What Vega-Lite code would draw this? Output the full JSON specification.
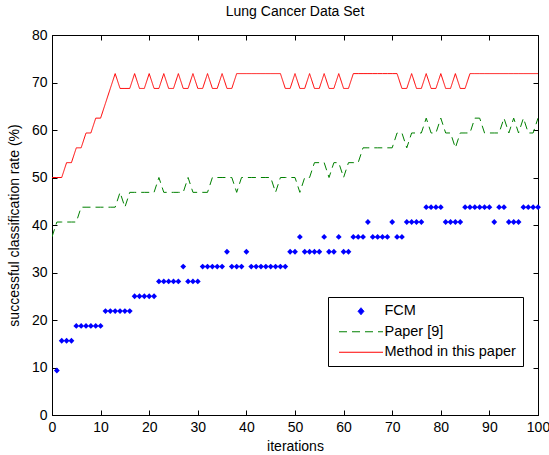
{
  "$schema": "https://vega.github.io/schema/vega-lite/v6.json",
  "width": 486,
  "height": 380,
  "autosize": "none",
  "padding": {"left": 52, "top": 35, "right": 11, "bottom": 40},
  "background": "white",
  "config": {
    "view": {"stroke": "black", "strokeWidth": 1},
    "font": "Liberation Sans",
    "axis": {
      "labelFont": "Liberation Sans",
      "labelFontSize": 14,
      "labelColor": "black",
      "labelFlush": false,
      "labelOverlap": false,
      "titleFont": "Liberation Sans",
      "titleFontSize": 14,
      "titleFontWeight": "normal",
      "titleColor": "black",
      "domainColor": "black",
      "tickColor": "black",
      "grid": false,
      "tickSize": -5
    }
  },
  "title": {"text": "Lung Cancer Data Set", "font": "Liberation Sans", "fontSize": 14, "fontWeight": "normal", "color": "black", "offset": 9},
  "datasets": {
    "lines": [
      {"series": "Method in this paper", "i": 0, "v": 50}, {"series": "Method in this paper", "i": 1, "v": 50}, {"series": "Method in this paper", "i": 2, "v": 50},
      {"series": "Method in this paper", "i": 3, "v": 53.125}, {"series": "Method in this paper", "i": 4, "v": 53.125},
      {"series": "Method in this paper", "i": 5, "v": 56.25}, {"series": "Method in this paper", "i": 6, "v": 56.25},
      {"series": "Method in this paper", "i": 7, "v": 59.375}, {"series": "Method in this paper", "i": 8, "v": 59.375},
      {"series": "Method in this paper", "i": 9, "v": 62.5}, {"series": "Method in this paper", "i": 10, "v": 62.5},
      {"series": "Method in this paper", "i": 11, "v": 65.625}, {"series": "Method in this paper", "i": 12, "v": 68.75},
      {"series": "Method in this paper", "i": 13, "v": 71.875},
      {"series": "Method in this paper", "i": 14, "v": 68.75}, {"series": "Method in this paper", "i": 15, "v": 68.75}, {"series": "Method in this paper", "i": 16, "v": 68.75},
      {"series": "Method in this paper", "i": 17, "v": 71.875},
      {"series": "Method in this paper", "i": 18, "v": 68.75}, {"series": "Method in this paper", "i": 19, "v": 68.75},
      {"series": "Method in this paper", "i": 20, "v": 71.875},
      {"series": "Method in this paper", "i": 21, "v": 68.75}, {"series": "Method in this paper", "i": 22, "v": 68.75},
      {"series": "Method in this paper", "i": 23, "v": 71.875},
      {"series": "Method in this paper", "i": 24, "v": 68.75}, {"series": "Method in this paper", "i": 25, "v": 68.75},
      {"series": "Method in this paper", "i": 26, "v": 71.875},
      {"series": "Method in this paper", "i": 27, "v": 68.75}, {"series": "Method in this paper", "i": 28, "v": 68.75},
      {"series": "Method in this paper", "i": 29, "v": 71.875},
      {"series": "Method in this paper", "i": 30, "v": 68.75}, {"series": "Method in this paper", "i": 31, "v": 68.75},
      {"series": "Method in this paper", "i": 32, "v": 71.875},
      {"series": "Method in this paper", "i": 33, "v": 68.75}, {"series": "Method in this paper", "i": 34, "v": 68.75},
      {"series": "Method in this paper", "i": 35, "v": 71.875},
      {"series": "Method in this paper", "i": 36, "v": 68.75}, {"series": "Method in this paper", "i": 37, "v": 68.75},
      {"series": "Method in this paper", "i": 38, "v": 71.875}, {"series": "Method in this paper", "i": 39, "v": 71.875}, {"series": "Method in this paper", "i": 40, "v": 71.875},
      {"series": "Method in this paper", "i": 41, "v": 71.875}, {"series": "Method in this paper", "i": 42, "v": 71.875}, {"series": "Method in this paper", "i": 43, "v": 71.875},
      {"series": "Method in this paper", "i": 44, "v": 71.875}, {"series": "Method in this paper", "i": 45, "v": 71.875}, {"series": "Method in this paper", "i": 46, "v": 71.875},
      {"series": "Method in this paper", "i": 47, "v": 71.875},
      {"series": "Method in this paper", "i": 48, "v": 68.75}, {"series": "Method in this paper", "i": 49, "v": 68.75},
      {"series": "Method in this paper", "i": 50, "v": 71.875},
      {"series": "Method in this paper", "i": 51, "v": 68.75}, {"series": "Method in this paper", "i": 52, "v": 68.75},
      {"series": "Method in this paper", "i": 53, "v": 71.875},
      {"series": "Method in this paper", "i": 54, "v": 68.75}, {"series": "Method in this paper", "i": 55, "v": 68.75},
      {"series": "Method in this paper", "i": 56, "v": 71.875},
      {"series": "Method in this paper", "i": 57, "v": 68.75}, {"series": "Method in this paper", "i": 58, "v": 68.75},
      {"series": "Method in this paper", "i": 59, "v": 71.875},
      {"series": "Method in this paper", "i": 60, "v": 68.75}, {"series": "Method in this paper", "i": 61, "v": 68.75},
      {"series": "Method in this paper", "i": 62, "v": 71.875}, {"series": "Method in this paper", "i": 63, "v": 71.875}, {"series": "Method in this paper", "i": 64, "v": 71.875},
      {"series": "Method in this paper", "i": 65, "v": 71.875}, {"series": "Method in this paper", "i": 66, "v": 71.875}, {"series": "Method in this paper", "i": 67, "v": 71.875},
      {"series": "Method in this paper", "i": 68, "v": 71.875}, {"series": "Method in this paper", "i": 69, "v": 71.875}, {"series": "Method in this paper", "i": 70, "v": 71.875},
      {"series": "Method in this paper", "i": 71, "v": 71.875},
      {"series": "Method in this paper", "i": 72, "v": 68.75}, {"series": "Method in this paper", "i": 73, "v": 68.75},
      {"series": "Method in this paper", "i": 74, "v": 71.875},
      {"series": "Method in this paper", "i": 75, "v": 68.75}, {"series": "Method in this paper", "i": 76, "v": 68.75},
      {"series": "Method in this paper", "i": 77, "v": 71.875},
      {"series": "Method in this paper", "i": 78, "v": 68.75}, {"series": "Method in this paper", "i": 79, "v": 68.75},
      {"series": "Method in this paper", "i": 80, "v": 71.875},
      {"series": "Method in this paper", "i": 81, "v": 68.75}, {"series": "Method in this paper", "i": 82, "v": 68.75},
      {"series": "Method in this paper", "i": 83, "v": 71.875},
      {"series": "Method in this paper", "i": 84, "v": 68.75}, {"series": "Method in this paper", "i": 85, "v": 68.75},
      {"series": "Method in this paper", "i": 86, "v": 71.875}, {"series": "Method in this paper", "i": 87, "v": 71.875}, {"series": "Method in this paper", "i": 88, "v": 71.875},
      {"series": "Method in this paper", "i": 89, "v": 71.875}, {"series": "Method in this paper", "i": 90, "v": 71.875}, {"series": "Method in this paper", "i": 91, "v": 71.875},
      {"series": "Method in this paper", "i": 92, "v": 71.875}, {"series": "Method in this paper", "i": 93, "v": 71.875}, {"series": "Method in this paper", "i": 94, "v": 71.875},
      {"series": "Method in this paper", "i": 95, "v": 71.875}, {"series": "Method in this paper", "i": 96, "v": 71.875}, {"series": "Method in this paper", "i": 97, "v": 71.875},
      {"series": "Method in this paper", "i": 98, "v": 71.875}, {"series": "Method in this paper", "i": 99, "v": 71.875}, {"series": "Method in this paper", "i": 100, "v": 71.875},
      {"series": "Paper [9]", "i": 0, "v": 37.5},
      {"series": "Paper [9]", "i": 1, "v": 40.625}, {"series": "Paper [9]", "i": 2, "v": 40.625}, {"series": "Paper [9]", "i": 3, "v": 40.625}, {"series": "Paper [9]", "i": 4, "v": 40.625}, {"series": "Paper [9]", "i": 5, "v": 40.625},
      {"series": "Paper [9]", "i": 6, "v": 43.75}, {"series": "Paper [9]", "i": 7, "v": 43.75}, {"series": "Paper [9]", "i": 8, "v": 43.75}, {"series": "Paper [9]", "i": 9, "v": 43.75},
      {"series": "Paper [9]", "i": 10, "v": 43.75}, {"series": "Paper [9]", "i": 11, "v": 43.75}, {"series": "Paper [9]", "i": 12, "v": 43.75}, {"series": "Paper [9]", "i": 13, "v": 43.75},
      {"series": "Paper [9]", "i": 14, "v": 46.875}, {"series": "Paper [9]", "i": 15, "v": 43.75},
      {"series": "Paper [9]", "i": 16, "v": 46.875}, {"series": "Paper [9]", "i": 17, "v": 46.875}, {"series": "Paper [9]", "i": 18, "v": 46.875}, {"series": "Paper [9]", "i": 19, "v": 46.875},
      {"series": "Paper [9]", "i": 20, "v": 46.875}, {"series": "Paper [9]", "i": 21, "v": 46.875},
      {"series": "Paper [9]", "i": 22, "v": 50},
      {"series": "Paper [9]", "i": 23, "v": 46.875}, {"series": "Paper [9]", "i": 24, "v": 46.875}, {"series": "Paper [9]", "i": 25, "v": 46.875}, {"series": "Paper [9]", "i": 26, "v": 46.875}, {"series": "Paper [9]", "i": 27, "v": 46.875},
      {"series": "Paper [9]", "i": 28, "v": 50},
      {"series": "Paper [9]", "i": 29, "v": 46.875}, {"series": "Paper [9]", "i": 30, "v": 46.875}, {"series": "Paper [9]", "i": 31, "v": 46.875}, {"series": "Paper [9]", "i": 32, "v": 46.875},
      {"series": "Paper [9]", "i": 33, "v": 50}, {"series": "Paper [9]", "i": 34, "v": 50}, {"series": "Paper [9]", "i": 35, "v": 50}, {"series": "Paper [9]", "i": 36, "v": 50}, {"series": "Paper [9]", "i": 37, "v": 50},
      {"series": "Paper [9]", "i": 38, "v": 46.875},
      {"series": "Paper [9]", "i": 39, "v": 50}, {"series": "Paper [9]", "i": 40, "v": 50}, {"series": "Paper [9]", "i": 41, "v": 50}, {"series": "Paper [9]", "i": 42, "v": 50}, {"series": "Paper [9]", "i": 43, "v": 50},
      {"series": "Paper [9]", "i": 44, "v": 50}, {"series": "Paper [9]", "i": 45, "v": 50},
      {"series": "Paper [9]", "i": 46, "v": 46.875},
      {"series": "Paper [9]", "i": 47, "v": 50}, {"series": "Paper [9]", "i": 48, "v": 50}, {"series": "Paper [9]", "i": 49, "v": 50}, {"series": "Paper [9]", "i": 50, "v": 50},
      {"series": "Paper [9]", "i": 51, "v": 46.875},
      {"series": "Paper [9]", "i": 52, "v": 50}, {"series": "Paper [9]", "i": 53, "v": 50},
      {"series": "Paper [9]", "i": 54, "v": 53.125}, {"series": "Paper [9]", "i": 55, "v": 53.125}, {"series": "Paper [9]", "i": 56, "v": 53.125},
      {"series": "Paper [9]", "i": 57, "v": 50},
      {"series": "Paper [9]", "i": 58, "v": 53.125}, {"series": "Paper [9]", "i": 59, "v": 53.125},
      {"series": "Paper [9]", "i": 60, "v": 50},
      {"series": "Paper [9]", "i": 61, "v": 53.125}, {"series": "Paper [9]", "i": 62, "v": 53.125}, {"series": "Paper [9]", "i": 63, "v": 53.125},
      {"series": "Paper [9]", "i": 64, "v": 56.25}, {"series": "Paper [9]", "i": 65, "v": 56.25}, {"series": "Paper [9]", "i": 66, "v": 56.25}, {"series": "Paper [9]", "i": 67, "v": 56.25},
      {"series": "Paper [9]", "i": 68, "v": 56.25}, {"series": "Paper [9]", "i": 69, "v": 56.25}, {"series": "Paper [9]", "i": 70, "v": 56.25},
      {"series": "Paper [9]", "i": 71, "v": 59.375}, {"series": "Paper [9]", "i": 72, "v": 59.375},
      {"series": "Paper [9]", "i": 73, "v": 56.25},
      {"series": "Paper [9]", "i": 74, "v": 59.375}, {"series": "Paper [9]", "i": 75, "v": 59.375}, {"series": "Paper [9]", "i": 76, "v": 59.375},
      {"series": "Paper [9]", "i": 77, "v": 62.5},
      {"series": "Paper [9]", "i": 78, "v": 59.375}, {"series": "Paper [9]", "i": 79, "v": 59.375},
      {"series": "Paper [9]", "i": 80, "v": 62.5},
      {"series": "Paper [9]", "i": 81, "v": 59.375}, {"series": "Paper [9]", "i": 82, "v": 59.375},
      {"series": "Paper [9]", "i": 83, "v": 56.25},
      {"series": "Paper [9]", "i": 84, "v": 59.375}, {"series": "Paper [9]", "i": 85, "v": 59.375}, {"series": "Paper [9]", "i": 86, "v": 59.375},
      {"series": "Paper [9]", "i": 87, "v": 62.5}, {"series": "Paper [9]", "i": 88, "v": 62.5},
      {"series": "Paper [9]", "i": 89, "v": 59.375}, {"series": "Paper [9]", "i": 90, "v": 59.375}, {"series": "Paper [9]", "i": 91, "v": 59.375}, {"series": "Paper [9]", "i": 92, "v": 59.375},
      {"series": "Paper [9]", "i": 93, "v": 62.5}, {"series": "Paper [9]", "i": 94, "v": 59.375}, {"series": "Paper [9]", "i": 95, "v": 62.5}, {"series": "Paper [9]", "i": 96, "v": 59.375},
      {"series": "Paper [9]", "i": 97, "v": 62.5}, {"series": "Paper [9]", "i": 98, "v": 59.375}, {"series": "Paper [9]", "i": 99, "v": 59.375}, {"series": "Paper [9]", "i": 100, "v": 62.5}
    ],
    "fcm": [
      {"series": "FCM", "i": 1, "v": 9.375},
      {"series": "FCM", "i": 2, "v": 15.625}, {"series": "FCM", "i": 3, "v": 15.625}, {"series": "FCM", "i": 4, "v": 15.625},
      {"series": "FCM", "i": 5, "v": 18.75}, {"series": "FCM", "i": 6, "v": 18.75}, {"series": "FCM", "i": 7, "v": 18.75}, {"series": "FCM", "i": 8, "v": 18.75}, {"series": "FCM", "i": 9, "v": 18.75}, {"series": "FCM", "i": 10, "v": 18.75},
      {"series": "FCM", "i": 11, "v": 21.875}, {"series": "FCM", "i": 12, "v": 21.875}, {"series": "FCM", "i": 13, "v": 21.875}, {"series": "FCM", "i": 14, "v": 21.875}, {"series": "FCM", "i": 15, "v": 21.875}, {"series": "FCM", "i": 16, "v": 21.875},
      {"series": "FCM", "i": 17, "v": 25}, {"series": "FCM", "i": 18, "v": 25}, {"series": "FCM", "i": 19, "v": 25}, {"series": "FCM", "i": 20, "v": 25}, {"series": "FCM", "i": 21, "v": 25},
      {"series": "FCM", "i": 22, "v": 28.125}, {"series": "FCM", "i": 23, "v": 28.125}, {"series": "FCM", "i": 24, "v": 28.125}, {"series": "FCM", "i": 25, "v": 28.125}, {"series": "FCM", "i": 26, "v": 28.125},
      {"series": "FCM", "i": 27, "v": 31.25},
      {"series": "FCM", "i": 28, "v": 28.125}, {"series": "FCM", "i": 29, "v": 28.125}, {"series": "FCM", "i": 30, "v": 28.125},
      {"series": "FCM", "i": 31, "v": 31.25}, {"series": "FCM", "i": 32, "v": 31.25}, {"series": "FCM", "i": 33, "v": 31.25}, {"series": "FCM", "i": 34, "v": 31.25}, {"series": "FCM", "i": 35, "v": 31.25},
      {"series": "FCM", "i": 36, "v": 34.375},
      {"series": "FCM", "i": 37, "v": 31.25}, {"series": "FCM", "i": 38, "v": 31.25}, {"series": "FCM", "i": 39, "v": 31.25},
      {"series": "FCM", "i": 40, "v": 34.375},
      {"series": "FCM", "i": 41, "v": 31.25}, {"series": "FCM", "i": 42, "v": 31.25}, {"series": "FCM", "i": 43, "v": 31.25}, {"series": "FCM", "i": 44, "v": 31.25},
      {"series": "FCM", "i": 45, "v": 31.25}, {"series": "FCM", "i": 46, "v": 31.25}, {"series": "FCM", "i": 47, "v": 31.25}, {"series": "FCM", "i": 48, "v": 31.25},
      {"series": "FCM", "i": 49, "v": 34.375}, {"series": "FCM", "i": 50, "v": 34.375},
      {"series": "FCM", "i": 51, "v": 37.5},
      {"series": "FCM", "i": 52, "v": 34.375}, {"series": "FCM", "i": 53, "v": 34.375}, {"series": "FCM", "i": 54, "v": 34.375}, {"series": "FCM", "i": 55, "v": 34.375},
      {"series": "FCM", "i": 56, "v": 37.5},
      {"series": "FCM", "i": 57, "v": 34.375}, {"series": "FCM", "i": 58, "v": 34.375},
      {"series": "FCM", "i": 59, "v": 37.5},
      {"series": "FCM", "i": 60, "v": 34.375}, {"series": "FCM", "i": 61, "v": 34.375},
      {"series": "FCM", "i": 62, "v": 37.5}, {"series": "FCM", "i": 63, "v": 37.5}, {"series": "FCM", "i": 64, "v": 37.5},
      {"series": "FCM", "i": 65, "v": 40.625},
      {"series": "FCM", "i": 66, "v": 37.5}, {"series": "FCM", "i": 67, "v": 37.5}, {"series": "FCM", "i": 68, "v": 37.5}, {"series": "FCM", "i": 69, "v": 37.5},
      {"series": "FCM", "i": 70, "v": 40.625},
      {"series": "FCM", "i": 71, "v": 37.5}, {"series": "FCM", "i": 72, "v": 37.5},
      {"series": "FCM", "i": 73, "v": 40.625}, {"series": "FCM", "i": 74, "v": 40.625}, {"series": "FCM", "i": 75, "v": 40.625}, {"series": "FCM", "i": 76, "v": 40.625},
      {"series": "FCM", "i": 77, "v": 43.75}, {"series": "FCM", "i": 78, "v": 43.75}, {"series": "FCM", "i": 79, "v": 43.75}, {"series": "FCM", "i": 80, "v": 43.75},
      {"series": "FCM", "i": 81, "v": 40.625}, {"series": "FCM", "i": 82, "v": 40.625}, {"series": "FCM", "i": 83, "v": 40.625}, {"series": "FCM", "i": 84, "v": 40.625},
      {"series": "FCM", "i": 85, "v": 43.75}, {"series": "FCM", "i": 86, "v": 43.75}, {"series": "FCM", "i": 87, "v": 43.75}, {"series": "FCM", "i": 88, "v": 43.75}, {"series": "FCM", "i": 89, "v": 43.75}, {"series": "FCM", "i": 90, "v": 43.75},
      {"series": "FCM", "i": 91, "v": 40.625},
      {"series": "FCM", "i": 92, "v": 43.75}, {"series": "FCM", "i": 93, "v": 43.75},
      {"series": "FCM", "i": 94, "v": 40.625}, {"series": "FCM", "i": 95, "v": 40.625}, {"series": "FCM", "i": 96, "v": 40.625},
      {"series": "FCM", "i": 97, "v": 43.75}, {"series": "FCM", "i": 98, "v": 43.75}, {"series": "FCM", "i": 99, "v": 43.75}, {"series": "FCM", "i": 100, "v": 43.75}
    ]
  },
  "layer": [
    {
      "layer": [
        {
          "data": {"name": "lines"},
          "mark": {"type": "line", "strokeWidth": 1, "clip": true},
          "encoding": {
            "x": {"field": "i", "type": "quantitative", "scale": {"domain": [0, 100], "nice": false}, "axis": {"orient": "bottom", "title": "iterations", "values": [0,10,20,30,40,50,60,70,80,90,100], "titlePadding": 5, "labelPadding": 10}},
            "y": {"field": "v", "type": "quantitative", "scale": {"domain": [0, 80], "nice": false}, "axis": {"orient": "left", "title": "successful classification rate (%)", "values": [0,10,20,30,40,50,60,70,80], "titlePadding": 10, "labelPadding": 10}},
            "color": {
              "field": "series", "type": "nominal",
              "scale": {"domain": ["FCM", "Paper [9]", "Method in this paper"], "range": ["#0000ff", "#008000", "#ff0000"]},
              "legend": {
                "title": null,
                "orient": "none",
                "legendX": 276,
                "legendY": 262,
                "strokeColor": "black",
                "fillColor": "white",
                "padding": 7,
                "labelFont": "Liberation Sans",
                "labelFontSize": 14.5,
                "labelColor": "black",
                "symbolSize": 100,
                "labelOffset": 35,
                "rowPadding": 5.5,
                "encode": {
                  "symbols": {
                    "update": {
                      "shape": [
                        {"test": "datum.value === 'FCM'", "value": "M0,-0.7L0.6,0L0,0.7L-0.6,0Z"},
                        {"value": "M-4.4,0L4.4,0"}
                      ],
                      "x": {"value": 26},
                      "strokeDash": [
                        {"test": "datum.value === 'Paper [9]'", "value": [8, 5]},
                        {"value": [1, 0]}
                      ],
                      "fill": [
                        {"test": "datum.value === 'FCM'", "value": "#0000ff"},
                        {"value": "transparent"}
                      ],
                      "stroke": [
                        {"test": "datum.value === 'FCM'", "value": "#0000ff"},
                        {"test": "datum.value === 'Paper [9]'", "value": "#008000"},
                        {"value": "#ff0000"}
                      ],
                      "strokeWidth": {"value": 1},
                      "opacity": {"value": 1},
                      "strokeOpacity": {"value": 1}
                    }
                  }
                }
              }
            },
            "strokeDash": {"field": "series", "type": "nominal", "scale": {"domain": ["Paper [9]", "Method in this paper"], "range": [[8, 5], [1, 0]]}, "legend": null}
          }
        },
        {
          "data": {"name": "fcm"},
          "mark": {"type": "point", "shape": "diamond", "filled": true, "size": 34, "opacity": 1},
          "encoding": {
            "x": {"field": "i", "type": "quantitative"},
            "y": {"field": "v", "type": "quantitative"},
            "color": {"field": "series", "type": "nominal"}
          }
        }
      ]
    },
    {
      "data": {"name": "fcm"},
      "mark": {"type": "point", "opacity": 0},
      "encoding": {
        "x": {"field": "i", "type": "quantitative", "scale": {"domain": [0, 100], "nice": false}, "axis": {"orient": "top", "labels": false, "title": null, "domain": false, "values": [0,10,20,30,40,50,60,70,80,90,100]}},
        "y": {"field": "v", "type": "quantitative", "scale": {"domain": [0, 80], "nice": false}, "axis": {"orient": "right", "labels": false, "title": null, "domain": false, "values": [0,10,20,30,40,50,60,70,80]}}
      }
    }
  ],
  "resolve": {"scale": {"x": "independent", "y": "independent"}}
}
